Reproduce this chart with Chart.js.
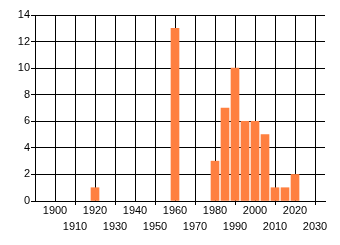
<!DOCTYPE html>
<html>
<head>
<meta charset="UTF-8">
<script src="https://cdn.jsdelivr.net/npm/chart.js"></script>
<style>
  body { margin: 0; background: #fff; }
</style>
</head>
<body>
<canvas id="grafico" width="340" height="245"></canvas>
<script>
    const anos = [1920, 1960, 1980, 1985, 1990, 1995, 2000, 2005, 2010, 2015, 2020];
    const quantidades = [1, 13, 3, 7, 10, 6, 6, 5, 1, 1, 2];
    const ticksX = [1900, 1910, 1920, 1930, 1940, 1950, 1960, 1970, 1980, 1990, 2000, 2010, 2020, 2030];
    const ticksY = [0, 2, 4, 6, 8, 10, 12, 14];

    const fonte = { family: 'Liberation Sans', size: 11 };

    // segunda linha para as décadas ímpares
    function segundaLinha(v) {
        return (v / 10) % 2 === 1;
    }

    const ctx = document.getElementById('grafico');
    new Chart(ctx, {
        type: 'bar',
        data: {
            datasets: [{
                data: anos.map((a, i) => ({ x: a, y: quantidades[i] })),
                backgroundColor: 'rgb(255,128,64)',
                borderWidth: 0,
                barThickness: 8
            }]
        },
        options: {
            responsive: false,
            animation: false,
            layout: { padding: { top: 15, right: 15, left: 0, bottom: 0 } },
            plugins: {
                legend: { display: false },
                tooltip: { enabled: false }
            },
            scales: {
                x: {
                    type: 'linear',
                    min: 1890,
                    max: 2035,
                    offset: false,
                    afterBuildTicks: s => { s.ticks = ticksX.map(v => ({ value: v })); },
                    afterFit: s => { s.height = 44; },
                    ticks: {
                        autoSkip: false,
                        maxRotation: 0,
                        minRotation: 0,
                        color: '#000',
                        font: { family: 'Liberation Sans', size: 11, lineHeight: '16px' },
                        padding: -2.5,
                        callback: v => segundaLinha(v) ? ['', String(v)] : String(v)
                    },
                    grid: {
                        color: '#000',
                        offset: false,
                        tickLength: 4,
                        tickColor: c => (c.tick && segundaLinha(c.tick.value)) ? '#000' : 'rgba(0,0,0,0)'
                    },
                    border: { color: '#000' }
                },
                y: {
                    min: 0,
                    max: 14,
                    afterBuildTicks: s => { s.ticks = ticksY.map(v => ({ value: v })); },
                    afterFit: s => { s.width = 35; },
                    ticks: {
                        color: '#000',
                        font: fonte,
                        padding: 1
                    },
                    grid: {
                        color: '#000',
                        tickLength: 4
                    },
                    border: { color: '#000' }
                }
            }
        }
    });
</script>
</body>
</html>
